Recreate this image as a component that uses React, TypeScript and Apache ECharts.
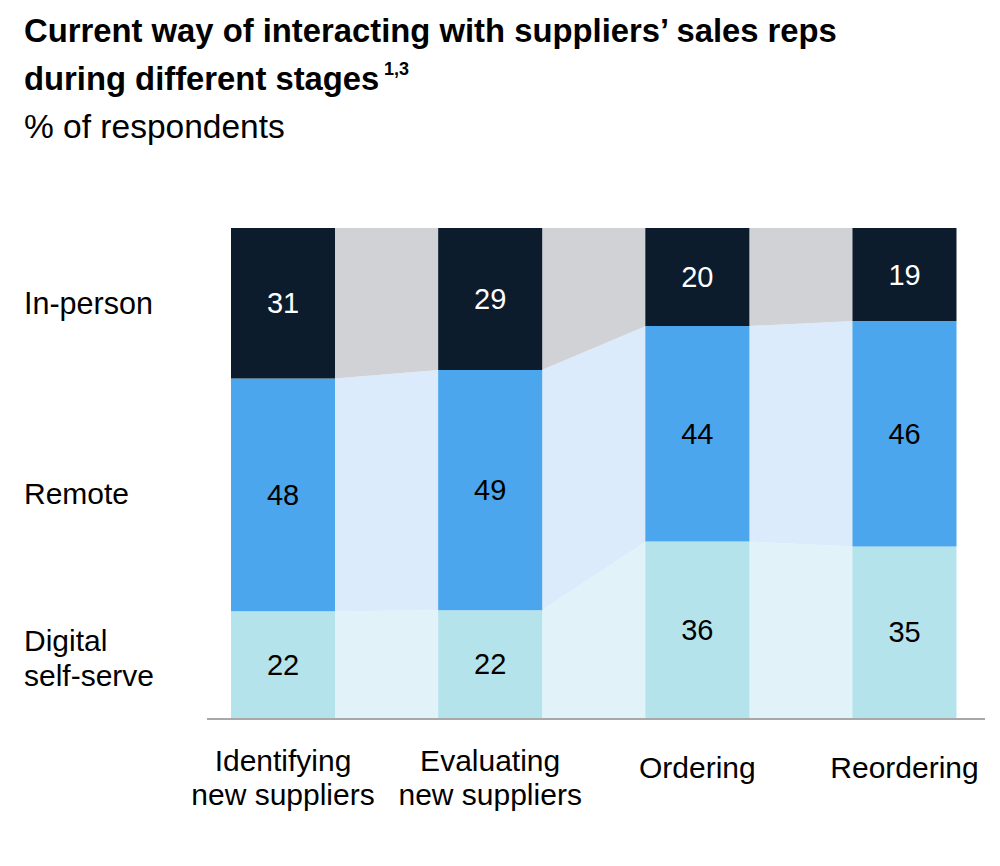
import React, { useEffect, useRef } from "react";
import * as echarts from "echarts";

const categories = ["Identifying\nnew suppliers", "Evaluating\nnew suppliers", "Ordering", "Reordering"];
const inPerson = [31, 29, 20, 19];
const remote = [48, 49, 44, 46];
const digital = [22, 22, 36, 35];
const rowLabels = ["In-person", "Remote", "Digital\nself-serve"];
const titleLine1 = "Current way of interacting with suppliers\u2019 sales reps";
const titleLine2 = "during different stages";
const titleSup = "1,3";
const subtitle = "% of respondents";

const FONT = "'Liberation Sans', Arial, Helvetica, sans-serif";
const BAR_W = 104;
const C_IN = "#0c1c2c";
const C_RE = "#4ba6ee";
const C_DI = "#b5e3ec";
const K_IN = "#d0d2d6";
const K_RE = "#dbebfb";
const K_DI = "#e1f3f8";

export default function App() {
  const ref = useRef<HTMLDivElement>(null);
  useEffect(() => {
    if (!ref.current) return;
    const chart = echarts.init(ref.current, null, { renderer: "svg" });
    const totals = inPerson.map((v, i) => v + remote[i] + digital[i]);
    const dS = digital.map((v, i) => (v / totals[i]) * 100);
    const rS = remote.map((v, i) => (v / totals[i]) * 100);
    const iS = inPerson.map((v, i) => (v / totals[i]) * 100);
    const bounds = (i: number, k: number): [number, number] => {
      if (k === 0) return [0, dS[i]];
      if (k === 1) return [dS[i], dS[i] + rS[i]];
      return [dS[i] + rS[i], dS[i] + rS[i] + iS[i]];
    };
    const linkColors = [K_DI, K_RE, K_IN];
    const gaps = categories.slice(0, -1).map((_, i) => [i]);

    const labelBase = {
      show: true,
      position: "inside",
      fontSize: 29,
      fontFamily: FONT,
    };

    chart.setOption({
      animation: false,
      backgroundColor: "#ffffff",
      grid: { left: 283, right: 95.5, top: 228, height: 490 },
      xAxis: {
        type: "category",
        data: categories,
        boundaryGap: false,
        axisLine: { show: false },
        axisTick: { show: false },
        splitLine: { show: false },
        axisLabel: {
          color: "#000",
          fontSize: 30,
          lineHeight: 34,
          fontFamily: FONT,
          margin: 25,
          interval: 0,
          formatter: (v: string) => (v.indexOf("\n") >= 0 ? v : `{one|${v}}`),
          rich: {
            one: { fontSize: 30, lineHeight: 48, fontFamily: FONT, color: "#000" },
          },
        },
      },
      yAxis: { type: "value", min: 0, max: 100, show: false, splitLine: { show: false } },
      series: [
        {
          type: "custom",
          data: gaps,
          encode: { x: 0 },
          z: 1,
          silent: true,
          clip: false,
          renderItem: (params: any, api: any) => {
            const i = params.dataIndex;
            const xa = api.coord([i, 0])[0] + BAR_W / 2;
            const xb = api.coord([i + 1, 0])[0] - BAR_W / 2;
            const children = [0, 1, 2].map((k) => {
              const [lo0, hi0] = bounds(i, k);
              const [lo1, hi1] = bounds(i + 1, k);
              return {
                type: "polygon",
                shape: {
                  points: [
                    [xa - 0.5, api.coord([i, lo0])[1]],
                    [xa - 0.5, api.coord([i, hi0])[1]],
                    [xb + 0.5, api.coord([i + 1, hi1])[1]],
                    [xb + 0.5, api.coord([i + 1, lo1])[1]],
                  ],
                },
                style: { fill: linkColors[k] },
              };
            });
            return { type: "group", children };
          },
        },
        {
          type: "bar",
          name: "Digital self-serve",
          stack: "all",
          barWidth: BAR_W,
          clip: false,
          z: 3,
          data: dS,
          itemStyle: { color: C_DI },
          label: { ...labelBase, color: "#000", formatter: (p: any) => String(digital[p.dataIndex]) },
        },
        {
          type: "bar",
          name: "Remote",
          stack: "all",
          barWidth: BAR_W,
          clip: false,
          z: 3,
          data: rS,
          itemStyle: { color: C_RE },
          label: { ...labelBase, color: "#000", formatter: (p: any) => String(remote[p.dataIndex]) },
        },
        {
          type: "bar",
          name: "In-person",
          stack: "all",
          barWidth: BAR_W,
          clip: false,
          z: 3,
          data: iS,
          itemStyle: { color: C_IN },
          label: { ...labelBase, color: "#fff", formatter: (p: any) => String(inPerson[p.dataIndex]) },
        },
      ],
      graphic: [
        {
          type: "text",
          x: 24,
          y: 30,
          style: { text: titleLine1, font: `bold 32.8px ${FONT}`, fill: "#000", verticalAlign: "middle" },
        },
        {
          type: "text",
          x: 24,
          y: 78,
          style: { text: titleLine2, font: `bold 32.8px ${FONT}`, fill: "#000", verticalAlign: "middle" },
        },
        {
          type: "text",
          x: 384,
          y: 69,
          style: { text: titleSup, font: `bold 18px ${FONT}`, fill: "#000", verticalAlign: "middle" },
        },
        {
          type: "text",
          x: 24,
          y: 126,
          style: { text: subtitle, font: `33.5px ${FONT}`, fill: "#000", verticalAlign: "middle" },
        },
        {
          type: "text",
          x: 24,
          y: 303,
          style: { text: rowLabels[0], font: `30.5px ${FONT}`, fill: "#000", verticalAlign: "middle" },
        },
        {
          type: "text",
          x: 24,
          y: 493,
          style: { text: rowLabels[1], font: `30px ${FONT}`, fill: "#000", verticalAlign: "middle" },
        },
        {
          type: "text",
          x: 24,
          y: 658,
          style: { text: rowLabels[2], font: `30px ${FONT}`, lineHeight: 35, fill: "#000", verticalAlign: "middle" },
        },
        {
          type: "line",
          shape: { x1: 207, y1: 719, x2: 985, y2: 719 },
          style: { stroke: "#a8a8a8", lineWidth: 2 },
          z: 10,
        },
      ],
    });
    return () => chart.dispose();
  }, []);
  return (
    <div
      ref={ref}
      style={{ position: "absolute", left: 0, top: 0, width: 1000, height: 866, background: "#fff" }}
    />
  );
}
